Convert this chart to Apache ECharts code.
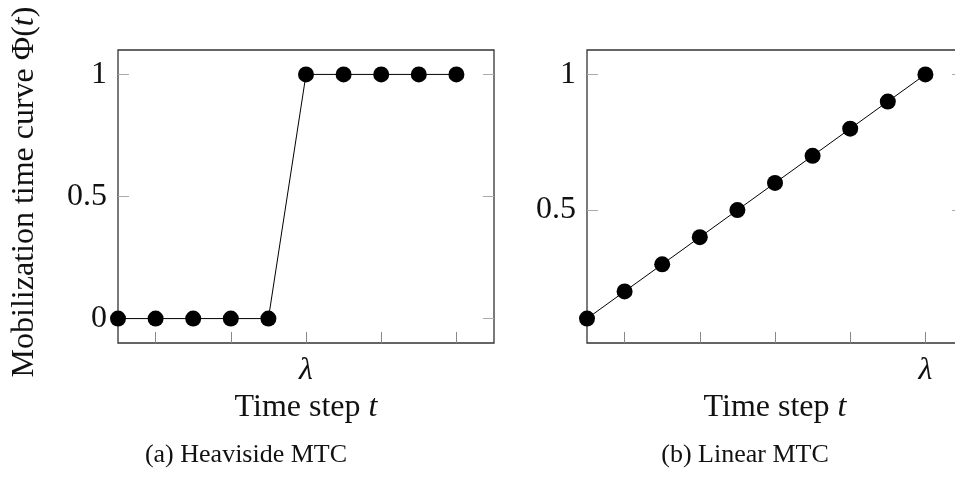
<!DOCTYPE html>
<html>
<head>
<meta charset="utf-8">
<script src="https://cdn.jsdelivr.net/npm/echarts@6/dist/echarts.min.js"></script>
<style>
  html, body { margin: 0; padding: 0; background: #fff; }
  #chart { width: 955px; height: 483px; }
</style>
</head>
<body>
<div id="chart"></div>
<script>
// Time steps shared by both panels
var steps = [0, 1, 2, 3, 4, 5, 6, 7, 8, 9];
// (a) Heaviside mobilization time curve
var heaviside = [0, 0, 0, 0, 0, 1, 1, 1, 1, 1];
// (b) Linear mobilization time curve
var linear = [0.1, 0.2, 0.3, 0.4, 0.5, 0.6, 0.7, 0.8, 0.9, 1.0];
// Tick positions on the time axis and where the lambda marker sits
var xTicks = [1, 3, 5, 7, 9];
var lambdaA = 5;
var lambdaB = 9;
// Value-axis ticks
var yTicksA = [0, 0.5, 1];
var yTicksB = [0.5, 1];

var FONT = '"Liberation Serif", "DejaVu Serif", serif';
var FS = 32;

function pairs(xs, ys) {
  return xs.map(function (x, i) { return [x, ys[i]]; });
}

function xAxisFor(gi, lambdaAt) {
  return {
    type: 'value', gridIndex: gi, min: 0, max: 10,
    axisLine: { show: false, onZero: false },
    splitLine: { show: false },
    axisTick: { show: true, inside: true, length: 11, customValues: xTicks,
      lineStyle: { color: '#888', width: 1 } },
    axisLabel: { show: true, customValues: [lambdaAt], margin: 12,
      formatter: function () { return 'λ'; },
      fontFamily: FONT, fontStyle: 'italic', fontSize: FS, color: '#111' },
    name: '{n|Time step }{i|t}', nameLocation: 'middle', nameGap: 47,
    nameTextStyle: {
      rich: {
        n: { fontFamily: FONT, fontSize: FS, color: '#111' },
        i: { fontFamily: FONT, fontSize: FS, fontStyle: 'italic', color: '#111' }
      }
    }
  };
}

function yAxisFor(gi, min, max, ticks, pos, showLabels) {
  return {
    type: 'value', gridIndex: gi, min: min, max: max, position: pos,
    axisLine: { show: false, onZero: false },
    splitLine: { show: false },
    axisTick: { show: true, inside: true, length: 11, customValues: ticks,
      lineStyle: { color: '#aaa', width: 1 } },
    axisLabel: { show: showLabels, customValues: ticks, margin: 11,
      fontFamily: FONT, fontSize: FS, color: '#111',
      formatter: function (v) { return String(v); } }
  };
}

var lineStyle = { color: '#000', width: 1 };
var itemStyle = { color: '#000' };

var chart = echarts.init(document.getElementById('chart'), null, { renderer: 'canvas' });
chart.setOption({
  backgroundColor: '#fff',
  animation: false,
  grid: [
    { left: 118, top: 50, width: 376, height: 293, show: true, outerBoundsMode: 'none',
      containLabel: false,
      borderColor: '#333', borderWidth: 1.3, backgroundColor: 'transparent' },
    { left: 587, top: 50, width: 376, height: 293, show: true, outerBoundsMode: 'none',
      containLabel: false,
      borderColor: '#333', borderWidth: 1.3, backgroundColor: 'transparent' }
  ],
  xAxis: [ xAxisFor(0, lambdaA), xAxisFor(1, lambdaB) ],
  yAxis: [
    yAxisFor(0, -0.1, 1.1, yTicksA, 'left', true),
    yAxisFor(0, -0.1, 1.1, yTicksA, 'right', false),
    yAxisFor(1, 0.01, 1.09, yTicksB, 'left', true),
    yAxisFor(1, 0.01, 1.09, yTicksB, 'right', false)
  ],
  series: [
    { type: 'line', xAxisIndex: 0, yAxisIndex: 0, data: pairs(steps, heaviside),
      symbol: 'circle', symbolSize: 16, lineStyle: lineStyle, itemStyle: itemStyle,
      clip: false, z: 5 },
    { type: 'line', xAxisIndex: 1, yAxisIndex: 2, data: pairs(steps, linear),
      symbol: 'circle', symbolSize: 16, lineStyle: lineStyle, itemStyle: itemStyle,
      clip: false, z: 5 }
  ],
  graphic: [
    { type: 'text', x: 25, y: 192, rotation: Math.PI / 2,
      style: {
        text: '{n|Mobilization time curve Φ(}{i|t}{n|)}',
        align: 'center', verticalAlign: 'middle',
        rich: {
          n: { fontFamily: FONT, fontSize: FS, fill: '#111' },
          i: { fontFamily: FONT, fontSize: FS, fontStyle: 'italic', fill: '#111' }
        }
      } },
    { type: 'text', x: 246, y: 455,
      style: { text: '(a) Heaviside MTC', fontFamily: FONT, fontSize: 26, fill: '#111',
        align: 'center', verticalAlign: 'middle' } },
    { type: 'text', x: 745, y: 455,
      style: { text: '(b) Linear MTC', fontFamily: FONT, fontSize: 26, fill: '#111',
        align: 'center', verticalAlign: 'middle' } }
  ]
});
</script>
</body>
</html>
